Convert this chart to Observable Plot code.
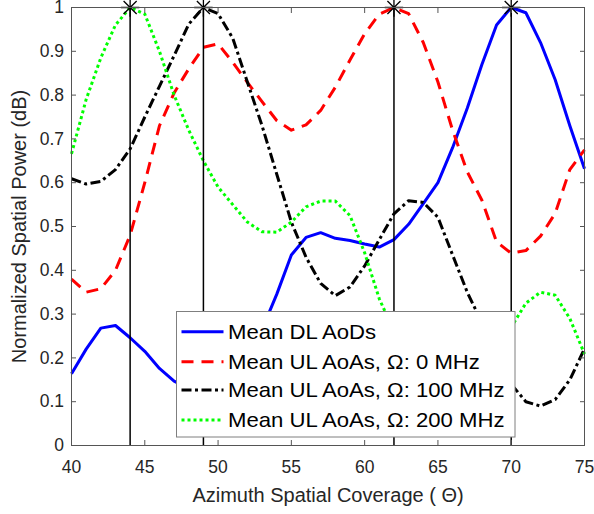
<!DOCTYPE html>
<html>
<head>
<meta charset="utf-8">
<script src="https://cdn.jsdelivr.net/npm/d3@7"></script>
<script src="https://cdn.jsdelivr.net/npm/@observablehq/plot@0.6"></script>
<style>
html, body { margin: 0; padding: 0; background: #fff; }
#wrap { position: relative; width: 594px; height: 514px; font-family: "Liberation Sans", Arial, sans-serif; }
#legend { position: absolute; left: 0; top: 0; pointer-events: none; }
</style>
</head>
<body>
<div id="wrap"></div>
<script>
// Azimuth angles (degrees)
const angles = [40,41,42,43,44,45,46,47,48,49,50,51,52,53,54,55,56,57,58,59,60,61,62,63,64,65,66,67,68,69,70,71,72,73,74,75];
// Mean DL AoDs
const dlAoD = [0.164,0.22,0.268,0.274,0.246,0.215,0.176,0.147,0.13,0.12,0.125,0.15,0.2,0.265,0.345,0.435,0.475,0.486,0.473,0.468,0.46,0.453,0.47,0.505,0.552,0.6,0.68,0.77,0.87,0.96,1.0,0.988,0.92,0.835,0.73,0.632];
// Mean UL AoAs, Omega 0 MHz
const ul0 = [0.38,0.35,0.358,0.40,0.48,0.60,0.73,0.805,0.86,0.909,0.917,0.875,0.829,0.785,0.742,0.72,0.732,0.765,0.818,0.88,0.94,0.985,1.0,0.986,0.92,0.83,0.72,0.625,0.56,0.465,0.439,0.445,0.478,0.53,0.63,0.675];
// Mean UL AoAs, Omega 100 MHz
const ul100 = [0.609,0.597,0.603,0.63,0.677,0.75,0.82,0.89,0.962,1.0,0.986,0.93,0.83,0.73,0.62,0.51,0.43,0.37,0.342,0.362,0.41,0.47,0.529,0.559,0.555,0.521,0.435,0.35,0.28,0.21,0.14,0.1,0.09,0.105,0.15,0.221];
// Mean UL AoAs, Omega 200 MHz
const ul200 = [0.666,0.79,0.885,0.96,1.0,0.985,0.9,0.8,0.72,0.65,0.59,0.55,0.51,0.488,0.487,0.51,0.545,0.558,0.558,0.525,0.44,0.335,0.26,0.2,0.16,0.14,0.14,0.16,0.19,0.23,0.27,0.325,0.35,0.343,0.29,0.209];
// Peak markers
const peakAngles = [44, 49, 62, 70];
const peakPower = [1, 1, 1, 1];
// Ticks
const xTicks = [40,45,50,55,60,65,70,75];
const yTicks = [0,0.1,0.2,0.3,0.4,0.5,0.6,0.7,0.8,0.9,1];
const xLabel = "Azimuth Spatial Coverage ( \u0398)";
const yLabel = "Normalized Spatial Power (dB)";
// Series
const seriesNames = ["Mean DL AoDs", "Mean UL AoAs, \u03A9: 0 MHz", "Mean UL AoAs, \u03A9: 100 MHz", "Mean UL AoAs, \u03A9: 200 MHz"];
const seriesColors = ["#0000ff", "#ff0000", "#000000", "#00ff00"];
const seriesDash = [null, "12,8", "10,3.5,3,3.5", "3,3"];
const seriesValues = [dlAoD, ul0, ul100, ul200];

const series = seriesNames.map((name, i) => ({
  name, color: seriesColors[i], dash: seriesDash[i],
  data: angles.map((x, j) => ({x, y: seriesValues[i][j]}))
}));
const peaks = peakAngles.map((x, i) => ({x, y: peakPower[i]}));

const W = 594, H = 514;
const txt = "#262626";
const plot = Plot.plot({
  width: W, height: H,
  marginLeft: 71, marginRight: 10, marginTop: 7, marginBottom: 69,
  x: {domain: [40, 75]},
  y: {domain: [0, 1]},
  style: {fontFamily: "'Liberation Sans', Arial, sans-serif", fontSize: "17px", color: txt, background: "white", overflow: "visible"},
  marks: [
    ...series.map(s => Plot.line(s.data, {x: "x", y: "y", stroke: s.color, strokeWidth: 3, strokeDasharray: s.dash, strokeLinecap: "butt", strokeLinejoin: "round"})),
    Plot.ruleX(peaks, {x: "x", stroke: "black", strokeWidth: 1.5}),
    Plot.dot(peaks, {x: "x", y: "y", symbol: "plus", r: 6, stroke: "black", strokeWidth: 1.3}),
    Plot.dot(peaks, {x: "x", y: "y", symbol: "times", r: 6, stroke: "black", strokeWidth: 1.3}),
    Plot.frame({stroke: "#555", strokeWidth: 1}),
    Plot.axisX(xTicks, {anchor: "bottom", tickSize: -5, tickPadding: 20, tickFormat: d => String(d), label: null, fontSize: 17.5, fill: txt, stroke: "#555"}),
    Plot.axisX(xTicks, {anchor: "top", tickSize: -5, tickFormat: () => "", label: null, stroke: "#555"}),
    Plot.axisY(yTicks, {anchor: "left", tickSize: -5, tickPadding: 12.4, tickFormat: d => String(d), label: null, fontSize: 17.5, fill: txt, stroke: "#555"}),
    Plot.axisY(yTicks, {anchor: "right", tickSize: -5, tickFormat: () => "", label: null, stroke: "#555"}),
    Plot.text([xLabel], {text: d => d, frameAnchor: "bottom", lineAnchor: "bottom", dy: 56, fontSize: 20, fill: txt}),
    Plot.text([yLabel], {text: d => d, frameAnchor: "left", textAnchor: "middle", lineAnchor: "top", rotate: -90, dx: -60, fontSize: 20, fill: txt})
  ]
});
const wrap = document.getElementById("wrap");
wrap.appendChild(plot);

// Legend overlay (inside the axes, like MATLAB)
const lg = d3.select(wrap).append("svg").attr("id", "legend").attr("width", W).attr("height", H);
const box = {x: 176.5, y: 311.5, w: 338.5, h: 125.5};
lg.append("rect").attr("x", box.x).attr("y", box.y).attr("width", box.w).attr("height", box.h)
  .attr("fill", "white").attr("stroke", "#7f7f7f").attr("stroke-width", 1);
const rowCenters = [20.2, 50.2, 78.5, 108.5];
series.forEach((s, i) => {
  const cy = box.y + rowCenters[i];
  lg.append("line").attr("x1", box.x + 5).attr("x2", box.x + 47).attr("y1", cy).attr("y2", cy)
    .attr("stroke", s.color).attr("stroke-width", 3).attr("stroke-dasharray", s.dash);
  lg.append("text").attr("transform", `translate(${box.x + 51.5},${cy}) scale(1.08,1)`).attr("dy", "0.35em")
    .attr("font-family", "'Liberation Sans', Arial, sans-serif").attr("font-size", 20.5).attr("fill", "#000")
    .text(s.name);
});
</script>
</body>
</html>
